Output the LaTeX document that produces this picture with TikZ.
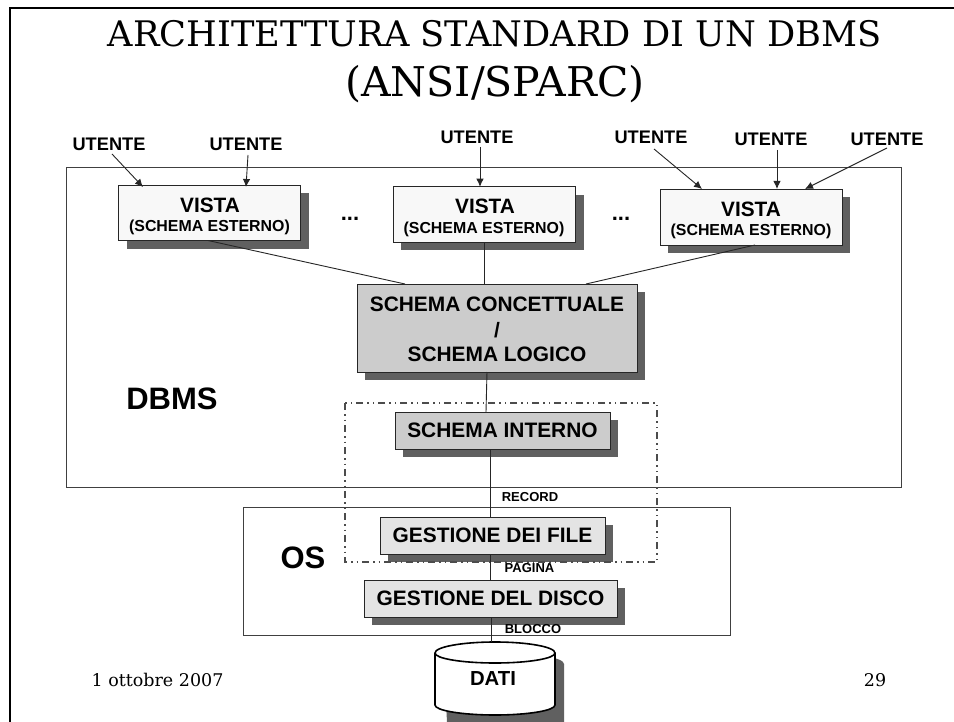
\documentclass[tikz,border=0pt]{standalone}
\usepackage{fontspec}
\setmainfont{DejaVu Serif}
\newfontfamily\arialf{Liberation Sans}[BoldFont={Liberation Sans Bold}]
\definecolor{shadowc}{HTML}{606060}
\definecolor{vistac}{HTML}{F8F8F8}
\definecolor{darkc}{HTML}{CCCCCC}
\definecolor{lightc}{HTML}{E4E4E4}
\newcommand{\bft}[1]{\fontsize{#1}{#1}\selectfont\arialf\bfseries}
\tikzset{
  x=1pt,y=-1pt,
  box/.style={draw=black!85,line width=0.9pt,inner sep=0pt,outer sep=0pt,anchor=north west,align=center},
  shad/.style={fill=shadowc,draw=none},
  frameb/.style={draw=black!75,line width=1pt},
  conn/.style={draw=black!85,line width=0.9pt},
  arr/.style={conn,-{Latex[length=8pt,width=7.5pt]}},
  lab/.style={inner sep=0pt,outer sep=1pt,align=center},
  small/.style={lab,font=\bft{13}},
  user/.style={lab,font=\bft{18.2}},
  big/.style={lab,font=\bft{31}},
  dots/.style={lab,font=\bft{22}},
  foot/.style={lab,font=\fontsize{17.5}{17.5}\selectfont},
}
\usetikzlibrary{arrows.meta}
\begin{document}
\begin{tikzpicture}
\useasboundingbox (0,0) rectangle (954,722);
\fill[white] (0,0) rectangle (954,722);
% page frame
\draw[black,line width=2.6pt] (954,8) -- (10,8) -- (10,722);
% title
\node[lab,anchor=base,font=\fontsize{35.2}{35.2}\selectfont] (t1) at (494.5,47) {ARCHITETTURA STANDARD DI UN DBMS};
\node[lab,anchor=base,font=\fontsize{41}{41}\selectfont] (t2) at (495,97) {(ANSI/SPARC)};
% containers
\node[box,frameb,minimum width=835pt,minimum height=319pt] (dbms) at (66,168) {};
\node[box,frameb,minimum width=487pt,minimum height=128pt] (os) at (243,507) {};
% shadows
\fill[shad] (126.5,193) rectangle (309,249);
\fill[shad] (401,194.7) rectangle (583.5,250.5);
\fill[shad] (668,197) rectangle (850,253);
\fill[shad] (365,292) rectangle (645,380);
\fill[shad] (403,420) rectangle (618,457);
\fill[shad] (388,525) rectangle (613,562);
\fill[shad] (372,588) rectangle (625,625);
% boxes
\node[box,fill=vistac,minimum width=182pt,minimum height=55.5pt] (v1) at (118.5,185) {};
\node[box,fill=vistac,minimum width=182pt,minimum height=55.5pt] (v2) at (393,186.7) {};
\node[box,fill=vistac,minimum width=182pt,minimum height=56pt] (v3) at (660,189) {};
\node[box,fill=darkc,minimum width=280pt,minimum height=88pt] (cc) at (357,284) {};
\node[box,fill=darkc,minimum width=215pt,minimum height=37pt] (si) at (395,412) {};
\node[box,fill=lightc,minimum width=225pt,minimum height=37pt] (gf) at (380,517) {};
\node[box,fill=lightc,minimum width=253pt,minimum height=37pt] (gd) at (364,580) {};
% box texts
\node[lab,font=\bft{20.8}] (v1a) at (210,205.5) {VISTA};
\node[lab,font=\bft{15.9}] (v1b) at (209.5,227) {(SCHEMA ESTERNO)};
\node[lab,font=\bft{20.8}] (v2a) at (485,206) {VISTA};
\node[lab,font=\bft{15.9}] (v2b) at (484,229) {(SCHEMA ESTERNO)};
\node[lab,font=\bft{20.8}] (v3a) at (751,209) {VISTA};
\node[lab,font=\bft{15.9}] (v3b) at (751,231) {(SCHEMA ESTERNO)};
\node[lab,font=\bft{20.9}] (cc1) at (497,304) {SCHEMA CONCETTUALE};
\node[lab,font=\bft{20.9}] (cc2) at (497,330) {/};
\node[lab,font=\bft{20.9}] (cc3) at (497,354.5) {SCHEMA LOGICO};
\node[lab,font=\bft{20.9}] (si1) at (502.5,430) {SCHEMA INTERNO};
\node[lab,font=\bft{20.9}] (gf1) at (492.5,535.5) {GESTIONE DEI FILE};
\node[lab,font=\bft{20.9}] (gd1) at (490.5,598) {GESTIONE DEL DISCO};
% cylinder
\fill[shad] (444,664) -- (564,664) -- (564,722) -- (447,722) -- cycle;
\fill[shad] (504,664) ellipse [x radius=60,y radius=11];
\draw[fill=white,draw=black,line width=1.6pt] (435,653) arc [start angle=180,end angle=360,x radius=60,y radius=11]
  -- (555,705) arc [start angle=0,end angle=180,x radius=60,y radius=10] -- cycle;
\draw[black,line width=1.6pt] (435,653) arc [start angle=180,end angle=0,x radius=60,y radius=10];
\coordinate (dbtop) at (491.5,642);
\node[lab,font=\bft{20.3}] (dati) at (493,679) {DATI};
% labels
\node[user] (u1) at (109,144) {UTENTE};
\node[user] (u2) at (246,144) {UTENTE};
\node[user] (u3) at (477,137) {UTENTE};
\node[user] (u4) at (651,137) {UTENTE};
\node[user] (u5) at (771,139) {UTENTE};
\node[user] (u6) at (887,139) {UTENTE};
\node[big] (ldb) at (172,399) {DBMS};
\node[big] (los) at (303,558) {OS};
\node[small] (lrec) at (530,497) {RECORD};
\node[small] (lpag) at (529.5,568) {PAGINA};
\node[small] (lblo) at (533,629) {BLOCCO};
\node[dots] (d1) at (350,219) {...};
\node[dots] (d2) at (621,219) {...};
\node[foot] (fd) at (157.5,680) {1 ottobre 2007};
\node[foot] (fn) at (875,680) {29};
% arrows
\draw[arr] (112,154) -- ([xshift=24.5pt,yshift=-2pt]v1.north west);
\draw[arr] (248,155) -- ([xshift=127.5pt,yshift=-2pt]v1.north west);
\draw[arr] (480,147) -- ([xshift=87pt]v2.north west);
\draw[arr] (654,149) -- ([xshift=42pt]v3.north west);
\draw[arr] (777,150) -- ([xshift=117pt]v3.north west);
\draw[arr] (887,148) -- ([xshift=145pt]v3.north west);
% connectors
\draw[conn] ([xshift=89.5pt]v1.south west) -- ([xshift=48pt]cc.north west);
\draw[conn] ([xshift=91pt]v2.south west) -- ([xshift=127pt]cc.north west);
\draw[conn] ([xshift=95pt]v3.south west) -- ([xshift=229pt]cc.north west);
\draw[conn] ([xshift=130pt]cc.south west) -- ([xshift=91pt]si.north west);
\draw[conn] ([xshift=95pt]si.south west) -- ([xshift=110pt]gf.north west);
\draw[conn] ([xshift=110pt]gf.south west) -- ([xshift=126pt]gd.north west);
\draw[conn] ([xshift=127.5pt]gd.south west) -- (dbtop);
% dash-dot region
\draw[black!70,line width=1.1pt,dash pattern=on 7pt off 4pt on 1.5pt off 4pt on 1.5pt off 4pt] (345,403) rectangle (657,562);
\end{tikzpicture}
\end{document}
